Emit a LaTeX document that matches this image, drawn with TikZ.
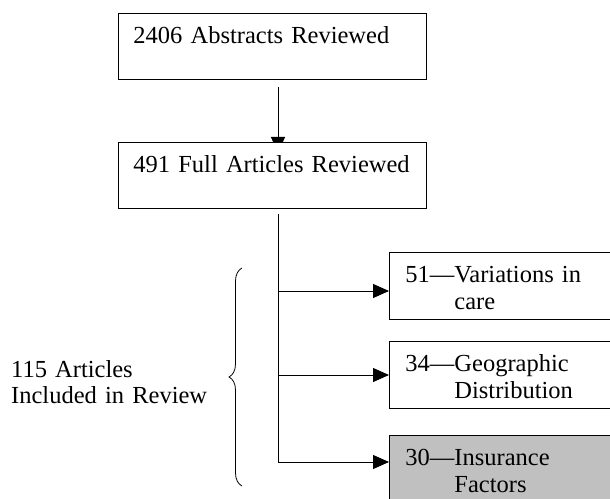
\documentclass[tikz,border=0pt]{standalone}
\usepackage{fontspec}
\setmainfont{Liberation Serif}
\usetikzlibrary{arrows.meta,decorations.pathreplacing,backgrounds,calc}
\definecolor{boxgray}{RGB}{192,192,192}
\begin{document}
\begin{tikzpicture}[x=1pt,y=1pt,
  every node/.style={font=\fontsize{24.5}{27}\selectfont},
  box/.style={draw=black, line width=0.9pt, fill=white, anchor=north west,
    inner xsep=15pt, inner ysep=0pt, text height=30pt, align=left},
  sidebox/.style={box, inner xsep=16pt, text width=188.5pt, text depth=37pt},
  conn/.style={line width=0.9pt, -{Triangle[length=16pt,width=14pt]}},
  trunk/.style={line width=0.9pt},
  ]
\useasboundingbox (0,0) rectangle (610,498);
\node[box, text width=278pt, text depth=36pt] (A) at (118,485) {2406 Abstracts Reviewed};
\node[box, text width=278pt, text depth=36pt] (B) at (118,356) {491 Full Articles Reviewed};
\node[sidebox] (C1) at (389,246) {51—Variations in\\\phantom{51—}care};
\node[sidebox] (C2) at (389,157) {34—Geographic\\\phantom{34—}Distribution};
\node[sidebox, fill=boxgray, text depth=66pt] (C3) at (389,63) {30—Insurance\\\phantom{30—}Factors};
\node[anchor=north west, inner sep=0pt, text width=205pt, text height=17pt, align=left,
  font=\fontsize{24.5}{26}\selectfont] (L) at (11,138) {115 Articles\\Included in Review};

\coordinate (b1) at (278,207);
\coordinate (b2) at (278,123);
\coordinate (b3) at (278,36);
\coordinate (tend) at (278,35);
\coordinate (br1) at (242,12);
\coordinate (br2) at (242,230);

\begin{scope}[on background layer]
  \draw[conn, shorten <=7pt] (A.south -| b1) -- ($(B.north -| b1)+(0,-11)$);
\end{scope}
\draw[trunk] ($(B.south -| b1)+(0,-5)$) -- (tend);
\draw[conn] (b1) -- (b1 -| C1.west);
\draw[conn] (b2) -- (b2 -| C2.west);
\draw[conn] (b3) -- (b3 -| C3.west);
\draw[line width=0.8pt, decorate, decoration={brace, amplitude=13pt}] (br1) -- (br2);
\end{tikzpicture}
\end{document}
